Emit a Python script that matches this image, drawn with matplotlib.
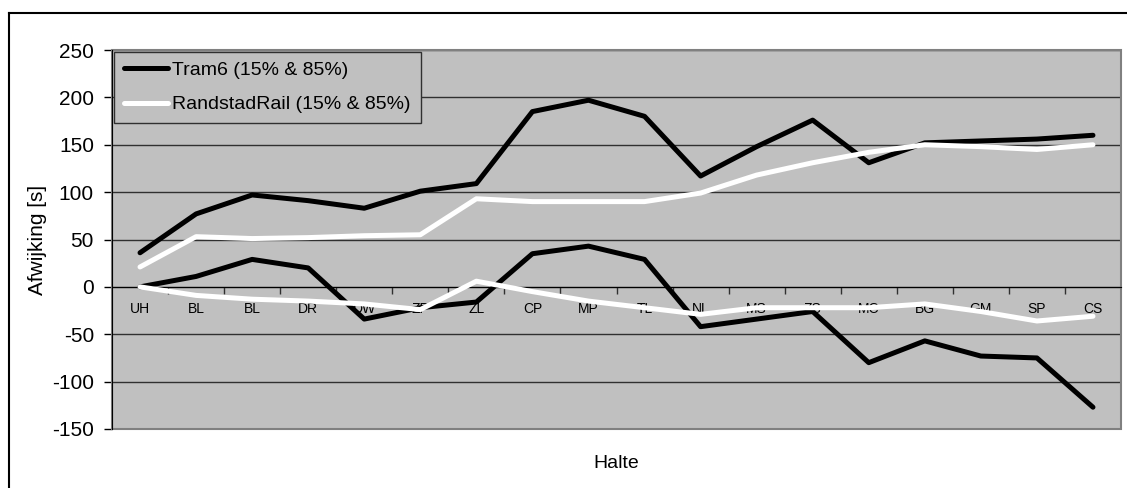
import numpy as np
import matplotlib.pyplot as plt
from matplotlib.patches import Rectangle
from matplotlib.lines import Line2D
from matplotlib.ticker import FixedLocator

plt.rcParams['font.family'] = ['Liberation Sans', 'DejaVu Sans']
plt.rcParams['axes.unicode_minus'] = False

# Haltes langs de route
halte = ['UH', 'BL', 'BL', 'DR', 'DW', 'ZP', 'ZL', 'CP', 'MP', 'TL',
         'NL', 'MS', 'ZS', 'MC', 'BG', 'GM', 'SP', 'CS']

# Afwijking [s], 85% en 15% percentielen
tram6_85 = [36, 77, 97, 91, 83, 101, 109, 185, 197, 180, 117, 148, 176, 131, 152, 154, 156, 160]
tram6_15 = [0, 11, 29, 20, -34, -22, -16, 35, 43, 29, -42, -34, -26, -80, -57, -73, -75, -127]
rr_85 = [21, 53, 51, 52, 54, 55, 93, 90, 90, 90, 99, 118, 131, 142, 150, 148, 145, 150]
rr_15 = [0, -9, -13, -15, -18, -24, 6, -5, -15, -22, -29, -22, -22, -22, -18, -26, -36, -31]

W, H = 1127, 488
fig = plt.figure(figsize=(W / 100, H / 100), dpi=100)
ax = fig.add_axes([112 / W, (H - 429) / H, 1009 / W, 379 / H])
ax.set_facecolor('#c0c0c0')

x = np.arange(len(halte))
lw = 3.6
ax.plot(x, tram6_85, color='black', lw=lw, zorder=3, solid_capstyle='round',
        label='Tram6 (15% & 85%)')
ax.plot(x, tram6_15, color='black', lw=lw, zorder=3, solid_capstyle='round')
ax.plot(x, rr_85, color='white', lw=lw, zorder=3, solid_capstyle='round',
        label='RandstadRail (15% & 85%)')
ax.plot(x, rr_15, color='white', lw=lw, zorder=3, solid_capstyle='round')

ax.set_xlim(-0.5, len(halte) - 0.5)
ax.set_ylim(-150, 250)
ax.set_yticks(np.arange(-150, 251, 50))
ax.tick_params(axis='y', labelsize=15, length=6, width=1, pad=7, color='black')
ax.yaxis.grid(True, color='#303030', lw=1)
ax.set_axisbelow(True)

# x-as door nul, labels tussen de ticks
ax.spines['bottom'].set_position(('data', 0))
ax.spines['bottom'].set_color('black')
ax.spines['bottom'].set_zorder(2.5)
ax.spines['top'].set_visible(False)
ax.spines['right'].set_visible(False)
ax.spines['left'].set_color('black')
ax.xaxis.set_major_locator(FixedLocator(x[:-1] + 0.5))
ax.xaxis.set_minor_locator(FixedLocator(x))
ax.set_xticklabels([])
ax.set_xticklabels(halte, minor=True)
ax.tick_params(axis='x', which='major', direction='out', length=5, width=1, color='#303030')
ax.tick_params(axis='x', which='minor', length=0, pad=11, labelsize=10)

ax.add_patch(Rectangle((0, 0), 1, 1, transform=ax.transAxes, fill=False,
                       edgecolor='#808080', lw=1.5, zorder=2.4, clip_on=False))

ax.set_xlabel('Halte', fontsize=14)
ax.xaxis.set_label_coords(0.5, -(463 - 429) / 379)
ax.xaxis.label.set_va('center')
ax.set_ylabel('Afwijking [s]', fontsize=15)
ax.yaxis.set_label_coords(-(112 - 38) / 1009, 0.5)
ax.yaxis.label.set_va('center')

leg = ax.legend(loc='upper left', bbox_to_anchor=(0.002, 0.995), borderaxespad=0,
                fontsize=14, fancybox=False, framealpha=1, facecolor='#c0c0c0',
                edgecolor='#303030', handlelength=2.3, handletextpad=0.2,
                borderpad=0.5, labelspacing=0.85)
leg.get_frame().set_linewidth(1)

# kader om de hele grafiek (alleen links en boven zichtbaar)
x0, y0 = 9 / W, (H - 12.5) / H
fig.add_artist(Line2D([x0, x0], [0, y0], transform=fig.transFigure, color='black', lw=1.5))
fig.add_artist(Line2D([x0, 1], [y0, y0], transform=fig.transFigure, color='black', lw=1.5))

fig.savefig('out.png', dpi=100)
